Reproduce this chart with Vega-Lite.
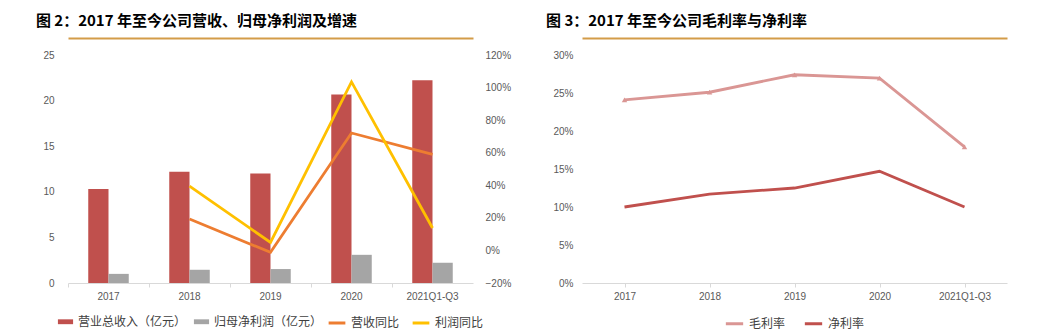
{
  "$schema": "https://vega.github.io/schema/vega-lite/v6.json",
  "padding": {"left": 35, "top": 14, "right": 5, "bottom": 0},
  "spacing": 34,
  "datasets": {
    "rev": [
      {"year": "2017", "series": "营业总收入（亿元）", "value": 10.3},
      {"year": "2017", "series": "归母净利润（亿元）", "value": 1.0},
      {"year": "2018", "series": "营业总收入（亿元）", "value": 12.2},
      {"year": "2018", "series": "归母净利润（亿元）", "value": 1.45},
      {"year": "2019", "series": "营业总收入（亿元）", "value": 12.0},
      {"year": "2019", "series": "归母净利润（亿元）", "value": 1.53},
      {"year": "2020", "series": "营业总收入（亿元）", "value": 20.67},
      {"year": "2020", "series": "归母净利润（亿元）", "value": 3.09},
      {"year": "2021Q1-Q3", "series": "营业总收入（亿元）", "value": 22.24},
      {"year": "2021Q1-Q3", "series": "归母净利润（亿元）", "value": 2.22}
    ],
    "growth": [
      {"year": "2018", "series": "营收同比", "value": 0.193},
      {"year": "2019", "series": "营收同比", "value": -0.012},
      {"year": "2020", "series": "营收同比", "value": 0.721},
      {"year": "2021Q1-Q3", "series": "营收同比", "value": 0.59},
      {"year": "2018", "series": "利润同比", "value": 0.395},
      {"year": "2019", "series": "利润同比", "value": 0.049},
      {"year": "2020", "series": "利润同比", "value": 1.035},
      {"year": "2021Q1-Q3", "series": "利润同比", "value": 0.138}
    ],
    "margin": [
      {"year": "2017", "series": "毛利率", "value": 0.241},
      {"year": "2018", "series": "毛利率", "value": 0.251},
      {"year": "2019", "series": "毛利率", "value": 0.274},
      {"year": "2020", "series": "毛利率", "value": 0.2695},
      {"year": "2021Q1-Q3", "series": "毛利率", "value": 0.179},
      {"year": "2017", "series": "净利率", "value": 0.100},
      {"year": "2018", "series": "净利率", "value": 0.117},
      {"year": "2019", "series": "净利率", "value": 0.125},
      {"year": "2020", "series": "净利率", "value": 0.147},
      {"year": "2021Q1-Q3", "series": "净利率", "value": 0.100}
    ]
  },
  "resolve": {"scale": {"color": "independent", "fill": "independent", "stroke": "independent"}, "legend": {"color": "independent", "fill": "independent", "stroke": "independent"}},
  "hconcat": [
    {
      "title": {"text": "图 2：2017 年至今公司营收、归母净利润及增速", "dx": -7},
      "width": 405,
      "height": 228,
      "layer": [
        {
          "data": {"name": "rev"},
          "mark": {"type": "bar"},
          "encoding": {
            "x": {"field": "year", "type": "nominal", "sort": null,
                  "scale": {"paddingInner": 0, "paddingOuter": 0},
                  "axis": {"title": null, "labelAngle": 0, "bandPosition": 0, "domainColor": "#d9d9d9", "tickColor": "#d9d9d9", "tickSize": 4, "labelPadding": 4}},
            "xOffset": {"field": "series", "type": "nominal", "sort": null,
                        "scale": {"paddingInner": 0, "paddingOuter": 1.13}},
            "y": {"field": "value", "type": "quantitative",
                  "scale": {"domain": [0, 25], "nice": false},
                  "axis": {"title": null, "values": [0, 5, 10, 15, 20, 25], "grid": false, "domain": false, "ticks": false, "labelPadding": 14}},
            "fill": {"field": "series", "type": "nominal", "sort": null,
                     "scale": {"domain": ["营业总收入（亿元）", "归母净利润（亿元）"], "range": ["#C0504D", "#A5A5A5"]},
                     "legend": {"title": null, "orient": "bottom", "direction": "horizontal", "symbolType": "M-1,-0.32H1V0.32H-1Z", "symbolSize": 230}}
          }
        },
        {
          "data": {"name": "growth"},
          "mark": {"type": "line", "strokeWidth": 2.8},
          "encoding": {
            "x": {"field": "year", "type": "nominal", "sort": null,
                  "axis": {"orient": "top", "labels": false, "ticks": false, "title": null, "domainColor": "#D39C48", "domainWidth": 2, "offset": 17}},
            "y": {"field": "value", "type": "quantitative",
                  "scale": {"domain": [-0.2, 1.2], "nice": false},
                  "axis": {"orient": "right", "title": null, "format": ".0%", "values": [-0.2, 0, 0.2, 0.4, 0.6, 0.8, 1.0, 1.2], "grid": false, "domain": false, "ticks": false, "labelPadding": 12}},
            "stroke": {"field": "series", "type": "nominal", "sort": null,
                       "scale": {"domain": ["营收同比", "利润同比"], "range": ["#ED7D31", "#FFC000"]},
                       "legend": {"title": null, "orient": "bottom", "direction": "horizontal", "symbolType": "stroke", "symbolStrokeWidth": 3, "symbolSize": 280}}
          }
        }
      ],
      "resolve": {"scale": {"y": "independent", "fill": "independent", "stroke": "independent"}, "axis": {"x": "independent"}}
    },
    {
      "title": {"text": "图 3：2017 年至今公司毛利率与净利率", "dx": -7},
      "width": 425,
      "height": 228,
      "data": {"name": "margin"},
      "encoding": {
        "x": {"field": "year", "type": "nominal", "sort": null,
              "scale": {"paddingInner": 0, "paddingOuter": 0},
              "axis": {"title": null, "labelAngle": 0, "bandPosition": 0, "domainColor": "#d9d9d9", "tickColor": "#d9d9d9", "tickSize": 4, "labelPadding": 4}},
        "y": {"field": "value", "type": "quantitative",
              "scale": {"domain": [0, 0.3], "nice": false},
              "axis": {"title": null, "format": ".0%", "values": [0, 0.05, 0.1, 0.15, 0.2, 0.25, 0.3], "grid": false, "domain": false, "ticks": false, "labelPadding": 9}},
        "color": {"field": "series", "type": "nominal", "sort": null,
                  "scale": {"domain": ["毛利率", "净利率"], "range": ["#DA9694", "#C0504D"]},
                  "legend": {"title": null, "orient": "bottom", "direction": "horizontal", "symbolType": "stroke", "symbolStrokeWidth": 3, "symbolSize": 300, "columnPadding": 12}}
      },
      "layer": [
        {"mark": {"type": "line", "strokeWidth": 2.8}},
        {"transform": [{"filter": "datum.series === '毛利率'"}],
         "mark": {"type": "point", "shape": "triangle-up", "filled": true, "size": 30, "opacity": 1},
         "encoding": {"x": {"field": "year", "type": "nominal", "sort": null,
                  "axis": {"orient": "top", "labels": false, "ticks": false, "title": null, "domainColor": "#D39C48", "domainWidth": 2, "offset": 17}}}}
      ],
      "resolve": {"axis": {"x": "independent"}}
    }
  ],
  "config": {
    "view": {"stroke": null},
    "font": "Liberation Sans",
    "title": {"font": "Noto Sans CJK SC", "fontSize": 15, "fontWeight": "bold", "color": "#000000", "anchor": "start", "offset": 9},
    "axis": {"labelFont": "Liberation Sans", "labelFontSize": 10, "labelColor": "#595959"},
    "legend": {"labelFont": "Noto Sans CJK SC", "labelFontSize": 12, "labelColor": "#404040", "offset": 12, "columnPadding": 6, "symbolOffset": 0, "labelLimit": 300,
               "layout": {"bottom": {"anchor": "middle", "direction": "horizontal", "margin": 4}}}
  }
}
